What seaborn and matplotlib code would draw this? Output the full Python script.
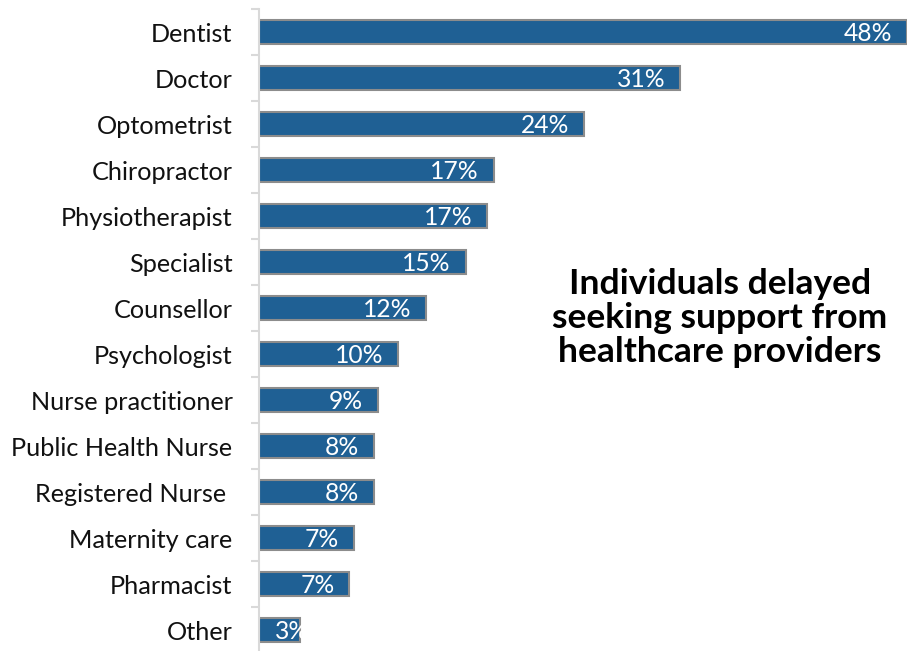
import matplotlib
matplotlib.use("Agg")
import matplotlib.pyplot as plt
import matplotlib.transforms as mtransforms
import seaborn as sns
import pandas as pd
import numpy as np

categories = ["Dentist", "Doctor", "Optometrist", "Chiropractor", "Physiotherapist",
              "Specialist", "Counsellor", "Psychologist", "Nurse practitioner",
              "Public Health Nurse", "Registered Nurse ", "Maternity care",
              "Pharmacist", "Other"]
values = [48.0, 31.2, 24.1, 17.4, 16.9, 15.3, 12.4, 10.3, 8.8, 8.5, 8.5, 7.0, 6.7, 3.0]
value_labels = ["48%", "31%", "24%", "17%", "17%", "15%", "12%", "10%", "9%", "8%",
                "8%", "7%", "7%", "3%"]
title_text = "Individuals delayed\nseeking support from\nhealthcare providers"

sns.set_style("white")
plt.rcParams["font.family"] = ["Lato", "DejaVu Sans"]

df = pd.DataFrame({"category": categories, "value": values})

W, H = 910, 651
fig = plt.figure(figsize=(W / 100, H / 100), dpi=100)
ax = fig.add_axes([259 / W, 1 - 653 / H, (907 - 259) / W, 644 / H])

sns.barplot(data=df, x="value", y="category", orient="h", color="#1F6094",
            saturation=1, width=0.52, edgecolor="#8C8C8C", linewidth=1.5, ax=ax)

ax.set_xlim(0, 48)
ax.set_ylim(len(categories) - 0.5, -0.5)
ax.set_xlabel("")
ax.set_ylabel("")
ax.set_xticks([])

for s in ["top", "right", "bottom"]:
    ax.spines[s].set_visible(False)
ax.spines["left"].set_color("#D9D9D9")
ax.spines["left"].set_linewidth(1.5)

ax.set_yticks(np.arange(len(categories)))
ax.set_yticklabels(categories)
ax.tick_params(axis="y", which="major", left=True, length=0, pad=19, labelsize=18.2,
               labelcolor="#111111")
ax.set_yticks(np.arange(len(categories) + 1) - 0.5, minor=True)
ax.tick_params(axis="y", which="minor", left=True, length=5.5, width=1.5, color="#D9D9D9")

fig.canvas.draw()
renderer = fig.canvas.get_renderer()
ax_x0 = ax.get_window_extent().x0
for p, lab in zip(ax.patches, value_labels):
    yc = p.get_y() + p.get_height() / 2
    off = mtransforms.offset_copy(ax.transData, fig=fig, x=-15, y=-1, units="dots")
    t = ax.text(p.get_width(), yc, lab, transform=off, ha="right", va="center",
                color="white", fontsize=17.7)
    bb = t.get_window_extent(renderer)
    if bb.x0 < ax_x0 + 16:
        t.remove()
        off2 = mtransforms.offset_copy(ax.transData, fig=fig, x=16, y=-1, units="dots")
        t = ax.text(0, yc, lab, transform=off2, ha="left", va="center",
                    color="white", fontsize=17.7)
        t.set_clip_path(p)

fig.text(720 / W, 1 - 318 / H, title_text, ha="center", va="center",
         multialignment="center", fontsize=25.5, fontweight="bold", color="black",
         linespacing=1.08)

fig.savefig("out.png", dpi=100)
